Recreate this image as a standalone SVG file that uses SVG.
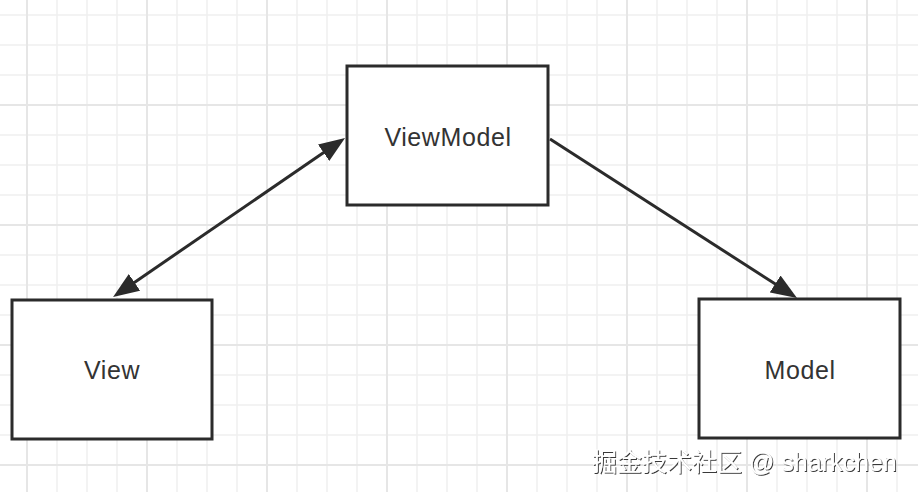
<svg xmlns="http://www.w3.org/2000/svg" width="918" height="492" viewBox="0 0 918 492">
  <style>
    .box { fill: #ffffff; stroke: #2b2b2b; stroke-width: 3; }
    .label { font-family: "Liberation Sans", Arial, sans-serif; font-size: 25px; letter-spacing: 0.6px; fill: #333333; text-anchor: middle; }
    .conn { stroke: #2b2b2b; stroke-width: 3; fill: none; }
    .wm { font-family: "Liberation Sans", "Noto Sans CJK SC", sans-serif; font-size: 25px; fill: #ffffff; }
  </style>
  <defs>
    <pattern id="minor" patternUnits="userSpaceOnUse" x="12" y="0" width="30" height="30">
      <path d="M15,0 V30 M0,15 H30" stroke="#f0f0f0" stroke-width="1.5" fill="none"/>
    </pattern>
    <pattern id="major" patternUnits="userSpaceOnUse" x="-33" y="45" width="120" height="120">
      <path d="M60,0 V120 M0,60 H120" stroke="#e6e6e6" stroke-width="2" fill="none"/>
    </pattern>
    <marker id="arrow" markerUnits="userSpaceOnUse" viewBox="0 0 26 20" markerWidth="26" markerHeight="20" refX="16" refY="10" orient="auto-start-reverse">
      <path d="M0,0 L26,10 L0,20 z" fill="#2b2b2b"/>
    </marker>
    <filter id="shadow" x="-5%" y="-30%" width="110%" height="160%">
      <feDropShadow dx="1" dy="1" stdDeviation="0.7" flood-color="#222222" flood-opacity="0.9"/>
    </filter>
  </defs>
  <rect x="0" y="0" width="918" height="492" fill="#ffffff"/>
  <rect x="0" y="0" width="918" height="492" fill="url(#minor)"/>
  <rect x="0" y="0" width="918" height="492" fill="url(#major)"/>

  <g id="connectors">
    <path class="conn" d="M121.3,291.4 L336.8,143.6" marker-start="url(#arrow)" marker-end="url(#arrow)"/>
    <path class="conn" d="M550,139 L788.6,292.6" marker-end="url(#arrow)"/>
  </g>

  <g id="viewmodel">
    <rect class="box" x="347" y="66" width="201" height="139"/>
    <text class="label" x="448" y="146">ViewModel</text>
  </g>
  <g id="view">
    <rect class="box" x="12" y="300" width="200" height="139"/>
    <text class="label" x="112" y="379">View</text>
  </g>
  <g id="model">
    <rect class="box" x="699" y="299" width="201" height="139"/>
    <text class="label" x="800" y="379">Model</text>
  </g>

  <text class="wm" x="592" y="471" filter="url(#shadow)">掘金技术社区 @ sharkchen</text>
</svg>
